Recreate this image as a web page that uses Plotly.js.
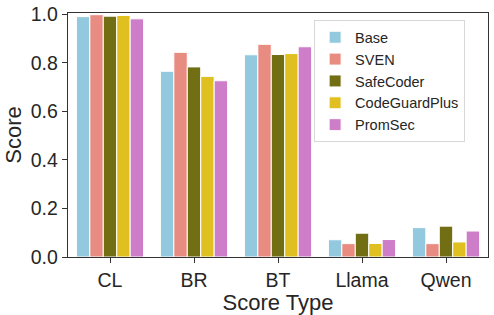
<!DOCTYPE html>
<html><head><meta charset="utf-8">
<script src="https://cdn.plot.ly/plotly-3.0.1.min.js"></script>
<style>body{margin:0;padding:0;background:#fff}#chart{width:494px;height:315px}</style>
</head><body><div id="chart"></div>
<script>
const categories = ["CL", "BR", "BT", "Llama", "Qwen"];
const methods = ["Base", "SVEN", "SafeCoder", "CodeGuardPlus", "PromSec"];
const base = [0.99, 0.765, 0.833, 0.071, 0.121];
const sven = [0.998, 0.843, 0.876, 0.055, 0.055];
const safeCoder = [0.992, 0.783, 0.834, 0.098, 0.127];
const codeGuardPlus = [0.995, 0.744, 0.838, 0.056, 0.062];
const promSec = [0.981, 0.726, 0.866, 0.072, 0.107];
const colors = ["#92C9DF", "#E88B80", "#716E14", "#E0C020", "#CE7EC8"];
const series = [base, sven, safeCoder, codeGuardPlus, promSec];

const traces = series.map((vals, i) => ({
  type: "bar", name: methods[i], x: categories, y: vals,
  marker: {color: colors[i], line: {color: "#ffffff", width: 1}}
}));

const layout = {
  width: 494, height: 315,
  margin: {l: 68, r: 6, t: 13, b: 58},
  font: {family: "Liberation Sans, Arial, sans-serif", color: "#262626"},
  paper_bgcolor: "#fff", plot_bgcolor: "#fff",
  barmode: "group", bargap: 0.2, bargroupgap: 0,
  xaxis: {
    range: [-0.5, 4.5], showgrid: false, zeroline: false,
    showline: true, mirror: true, linecolor: "#333", linewidth: 1.3,
    ticks: "outside", ticklen: 5, tickcolor: "#333",
    tickfont: {size: 19.5},
    title: {text: "Score Type", font: {size: 22}, standoff: 5}
  },
  yaxis: {
    range: [0, 1.005], showgrid: false, zeroline: false,
    showline: true, mirror: true, linecolor: "#333", linewidth: 1.3,
    ticks: "outside", ticklen: 5, tickcolor: "#333",
    tickvals: [0, 0.2, 0.4, 0.6, 0.8, 1.0], ticktext: ["0.0","0.2","0.4","0.6","0.8","1.0"],
    tickfont: {size: 19.5},
    title: {text: "Score", font: {size: 22}, standoff: 3}
  },
  legend: {
    x: 0.586, y: 0.97, xanchor: "left", yanchor: "top",
    bgcolor: "#fff", bordercolor: "#d8d8d8", borderwidth: 1,
    font: {size: 14.5, color: "#262626"}, tracegroupgap: 0
  }
};
Plotly.newPlot("chart", traces, layout, {displayModeBar: false, staticPlot: true});
</script></body></html>
